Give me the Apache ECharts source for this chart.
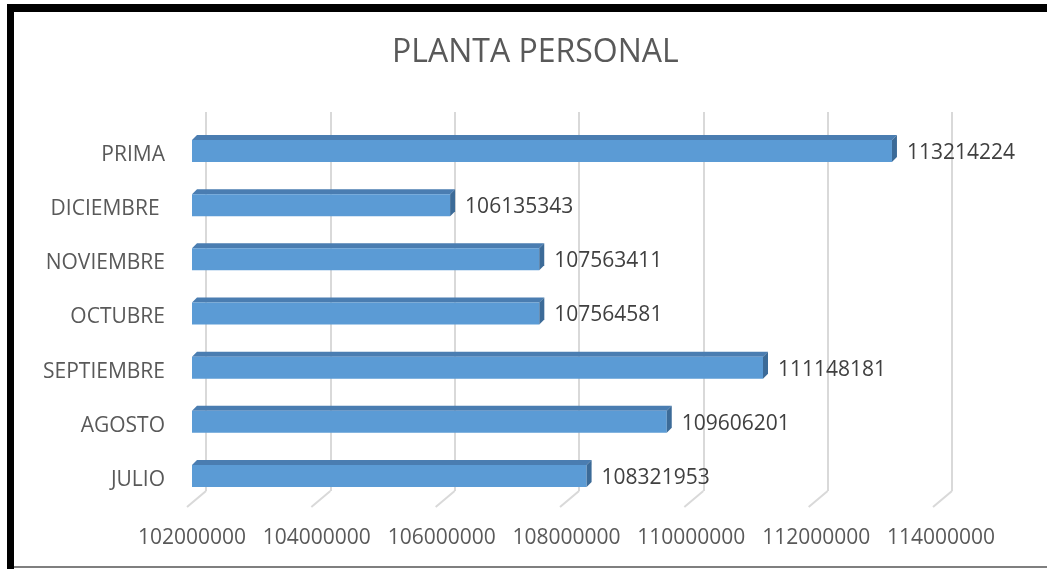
<!DOCTYPE html>
<html>
<head>
<meta charset="utf-8">
<script src="https://cdn.jsdelivr.net/npm/echarts@6/dist/echarts.min.js"></script>
<style>
  html, body { margin: 0; padding: 0; background: #fff; }
  #chart { width: 1047px; height: 569px; }
</style>
</head>
<body>
<div id="chart"></div>
<script>
// datos (de abajo hacia arriba, como en Excel)
var categories = ['JULIO', 'AGOSTO', 'SEPTIEMBRE', 'OCTUBRE', 'NOVIEMBRE', 'DICIEMBRE ', 'PRIMA'];
var values = [108321953, 109606201, 111148181, 107564581, 107563411, 106135343, 113214224];
var ticks = [102000000, 104000000, 106000000, 108000000, 110000000, 112000000, 114000000];
var xMin = 102000000, xMax = 114000000, xStep = 2000000;

var dom = document.getElementById('chart');
var myChart = echarts.init(dom);

var barData = values.map(function (v, i) { return [v, i]; });

option = {
    animation: false,
    title: {
        text: 'PLANTA PERSONAL',
        left: 387,
        top: 32,
        textStyle: { color: '#595959', fontSize: 32, fontWeight: 'normal', fontFamily: 'Open Sans' }
    },
    grid: [
        { left: 192, right: 106, top: 128, bottom: 62 },   // barras
        { left: 206, right: 95, top: 112, bottom: 78 }     // pared del fondo
    ],
    xAxis: [
        {
            type: 'value', gridIndex: 0, min: xMin, max: xMax, interval: xStep,
            axisLine: { show: false }, axisTick: { show: false }, splitLine: { show: false },
            axisLabel: {
                color: '#595959', fontSize: 21, fontFamily: 'Open Sans', margin: 21,
                formatter: function (v) { return String(v); }
            }
        },
        {
            type: 'value', gridIndex: 1, min: xMin, max: xMax, interval: xStep,
            axisLine: { show: false }, axisTick: { show: false }, axisLabel: { show: false },
            splitLine: { show: true, lineStyle: { color: '#d9d9d9', width: 2 } }
        }
    ],
    yAxis: [
        {
            type: 'category', gridIndex: 0, data: categories,
            axisLine: { show: false }, axisTick: { show: false },
            axisLabel: { color: '#595959', fontSize: 21, fontFamily: 'Open Sans', margin: 27 }
        },
        {
            type: 'value', gridIndex: 1, min: 0, max: 1, show: false
        }
    ],
    series: [
        {
            // lineas del piso en diagonal
            type: 'custom',
            xAxisIndex: 1, yAxisIndex: 1,
            clip: false,
            data: ticks.map(function (t) { return [t, 0]; }),
            renderItem: function (params, api) {
                var p = api.coord([api.value(0), 0]);
                return {
                    type: 'line',
                    shape: { x1: p[0], y1: p[1], x2: p[0] - 19, y2: p[1] + 16 },
                    style: { stroke: '#d9d9d9', lineWidth: 2 }
                };
            }
        },
        {
            name: 'PLANTA PERSONAL',
            type: 'custom',
            xAxisIndex: 0, yAxisIndex: 0,
            clip: false,
            encode: { x: 0, y: 1 },
            data: barData,
            renderItem: function (params, api) {
                var v = api.value(0);
                var s = api.coord([xMin, api.value(1)]);
                var e = api.coord([v, api.value(1)]);
                var x0 = s[0], x1 = e[0], cy = e[1];
                var t = cy - 15, b = cy + 7, d = 5;
                return {
                    type: 'group',
                    children: [
                        {
                            type: 'polygon',
                            shape: { points: [[x0, t], [x0 + d, t - d], [x1 + d, t - d], [x1, t]] },
                            style: { fill: '#4a7db1' }
                        },
                        {
                            type: 'rect',
                            shape: { x: x0, y: t, width: x1 - x0, height: b - t },
                            style: { fill: '#5b9bd5' }
                        },
                        {
                            type: 'polygon',
                            shape: { points: [[x1, t], [x1 + d, t - d], [x1 + d, b - d], [x1, b]] },
                            style: { fill: '#3c6b98' }
                        },
                        {
                            type: 'text',
                            style: {
                                x: x1 + d + 10, y: cy - 2,
                                text: String(v),
                                fill: '#404040', fontSize: 21, fontFamily: 'Open Sans',
                                verticalAlign: 'middle', align: 'left'
                            }
                        }
                    ]
                };
            }
        }
    ],
    graphic: [
        { type: 'rect', shape: { x: 7, y: 4, width: 1040, height: 8 }, style: { fill: '#000' } },
        { type: 'rect', shape: { x: 7, y: 4, width: 7, height: 565 }, style: { fill: '#000' } },
        { type: 'rect', shape: { x: 14, y: 566, width: 1033, height: 2 }, style: { fill: '#7f7f7f' } }
    ]
};

if (option && typeof option === "object") {
    myChart.setOption(option, true);
}
</script>
</body>
</html>
